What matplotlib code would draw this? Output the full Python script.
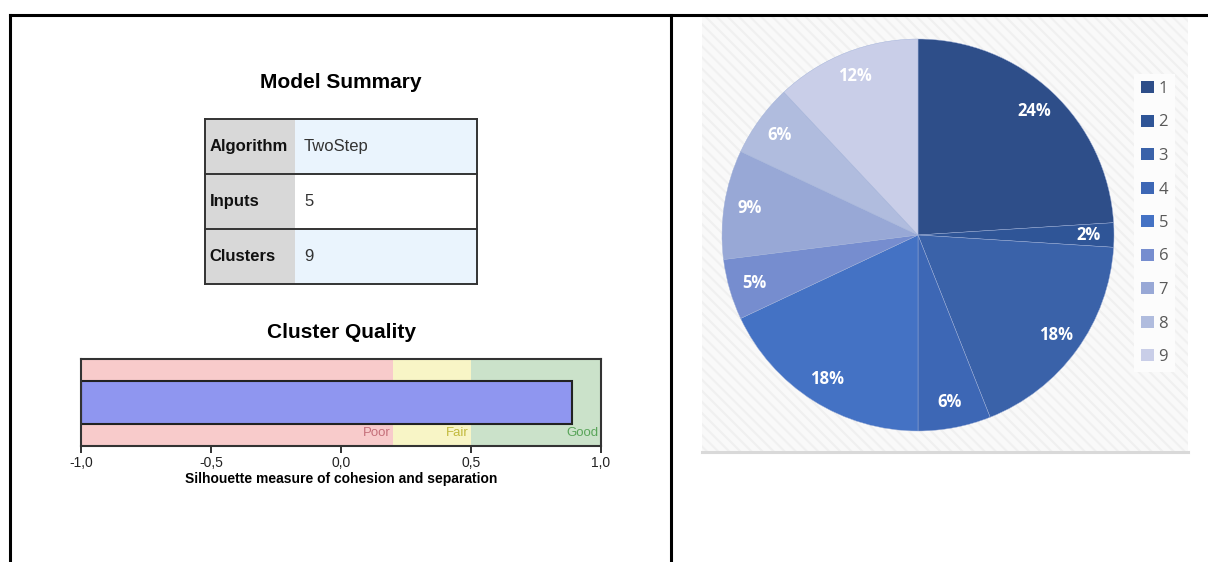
import matplotlib
matplotlib.use('Agg')
from matplotlib import pyplot as plt
from matplotlib.patches import Rectangle
from matplotlib.lines import Line2D
import numpy as np

# model summary table
summary_labels = ['Algorithm', 'Inputs', 'Clusters']
summary_values = ['TwoStep', '5', '9']

# cluster quality
silhouette = 0.89
zone_names = ['Poor', 'Fair', 'Good']
zone_edges = [-1.0, 0.2, 0.5, 1.0]
quality_ticks = [-1.0, -0.5, 0.0, 0.5, 1.0]
quality_ticklabels = ['-1,0', '-0,5', '0,0', '0,5', '1,0']

# pie of cluster sizes
clusters = ['1', '2', '3', '4', '5', '6', '7', '8', '9']
shares = [24, 2, 18, 6, 18, 5, 9, 6, 12]
pie_colors = ['#2e4e89', '#2f5597', '#3a62a9', '#3d67b5', '#4472c4',
              '#768dcf', '#98a8d6', '#b0bcde', '#c9cee8']

W, H = 1208, 562
fig = plt.figure(figsize=(W / 100, H / 100), dpi=100)
fig.patch.set_facecolor('white')


def box(x0, y0, x1, y1):
    # pixel box (top-left origin) -> figure fraction rect
    return [x0 / W, 1 - y1 / H, (x1 - x0) / W, (y1 - y0) / H]


spss_font = ['Liberation Sans Narrow', 'Liberation Sans', 'DejaVu Sans']

# frame lines round the two panels
for xs, ys in [([10, W], [15, 15]), ([10, 10], [15, H]), ([671, 671], [15, H])]:
    fig.add_artist(Line2D([x / W for x in xs], [1 - y / H for y in ys],
                          color='black', lw=2.2, transform=fig.transFigure,
                          solid_capstyle='projecting'))

# ---- left panel: model summary ----
fig.text(341 / W, 1 - 82 / H, 'Model Summary', ha='center', va='center',
         fontsize=15, fontweight='bold', family=['Liberation Sans'])

ax_t = fig.add_axes(box(205, 119, 477, 284))
ax_t.set_xlim(0, 1)
ax_t.set_ylim(0, 1)
ax_t.axis('off')
cell_text = [[l, v] for l, v in zip(summary_labels, summary_values)]
cell_colours = [['#d8d8d8', '#eaf4fd'], ['#d8d8d8', '#ffffff'], ['#d8d8d8', '#eaf4fd']]
tab = ax_t.table(cellText=cell_text, cellColours=cell_colours, cellLoc='left',
                 colWidths=[90 / 272, 182 / 272], bbox=[0, 0, 1, 1])
tab.auto_set_font_size(False)
tab.set_fontsize(12)
for (r, c), cell in tab.get_celld().items():
    cell.set_linewidth(0)
    cell.PAD = 0.05
    cell.get_text().set_family(spss_font)
    if c == 0:
        cell.get_text().set_fontweight('bold')
        cell.get_text().set_color('#111111')
    else:
        cell.get_text().set_color('#333333')
# row rules and outer border (no rule between the two columns)
n = len(summary_labels)
for k in range(n + 1):
    ax_t.plot([0, 1], [k / n, k / n], color='#333333', lw=1.4, clip_on=False,
              solid_capstyle='projecting', zorder=5)
for xv in [0, 1]:
    ax_t.plot([xv, xv], [0, 1], color='#333333', lw=1.4, clip_on=False, zorder=5)

fig.text(341 / W, 1 - 333 / H, 'Cluster Quality', ha='center', va='center',
         fontsize=15, fontweight='bold', family=['Liberation Sans'])

ax_q = fig.add_axes(box(81, 359, 601, 446))
zone_colors = ['#f8cbcb', '#f8f5c6', '#cbe2ca']
zone_text = ['#c5707a', '#c2ba3e', '#5aa55a']
for i, name in enumerate(zone_names):
    ax_q.axvspan(zone_edges[i], zone_edges[i + 1], color=zone_colors[i], lw=0)
    ax_q.text(zone_edges[i + 1] - 0.008, 0.15, name, ha='right', va='center',
              fontsize=9.5, color=zone_text[i], family=spss_font)
ax_q.barh([0.5], [silhouette - zone_edges[0]], left=zone_edges[0], height=0.5,
          color='#8f96f0', edgecolor='#222222', lw=1.5)
ax_q.set_xlim(-1, 1)
ax_q.set_ylim(0, 1)
ax_q.set_yticks([])
ax_q.set_xticks(quality_ticks)
ax_q.set_xticklabels(quality_ticklabels, fontsize=10, family=spss_font, color='#222222')
ax_q.tick_params(axis='x', direction='out', length=5, width=1.3, color='#222222', pad=2)
for s in ax_q.spines.values():
    s.set_color('#333333')
    s.set_linewidth(1.5)
ax_q.set_xlabel('Silhouette measure of cohesion and separation', fontsize=10,
                fontweight='bold', family=spss_font, labelpad=2)

# ---- right panel: excel pie ----
ax_bg = fig.add_axes(box(702, 17, 1188, 452))
ax_bg.set_xlim(0, 1)
ax_bg.set_ylim(0, 1)
ax_bg.axis('off')
plt.rcParams['hatch.linewidth'] = 1.5
ax_bg.add_patch(Rectangle((0, 0), 1, 1, transform=ax_bg.transAxes,
                          facecolor='#f9f9f9', edgecolor='#f0f0f0', hatch='\\\\\\', lw=0))
ax_bg.plot([0, 1], [0, 0], color='#d9d9d9', lw=2.2, transform=ax_bg.transAxes, clip_on=False)

ax_p = fig.add_axes(box(722, 39, 1114, 431))
wedges, _, autotexts = ax_p.pie(shares, colors=pie_colors, startangle=90, counterclock=False,
                                autopct='%1.0f%%', pctdistance=0.87, radius=1,
                                wedgeprops=dict(edgecolor='#9fb0d8', linewidth=0.3),
                                textprops=dict(color='white', fontsize=12, fontweight='bold',
                                               family=['Open Sans', 'DejaVu Sans']))
ax_p.set_xlim(-1, 1)
ax_p.set_ylim(-1, 1)
ax_p.set_aspect('equal')
ax_p.axis('off')

leg = fig.legend(wedges, clusters, loc='upper left',
                 bbox_to_anchor=(1126 / W, 1 - 66 / H), bbox_transform=fig.transFigure,
                 frameon=True, fancybox=False, framealpha=1, facecolor='#fcfcfc',
                 edgecolor='none', labelspacing=1.05, handlelength=0.75,
                 handleheight=0.75, handletextpad=0.3, borderpad=0.4,
                 prop=dict(family=['Open Sans', 'DejaVu Sans'], size=12))
for t in leg.get_texts():
    t.set_color('#595959')
for h in leg.legend_handles:
    h.set_edgecolor('none')

fig.savefig('out.png', dpi=100, facecolor='white')
